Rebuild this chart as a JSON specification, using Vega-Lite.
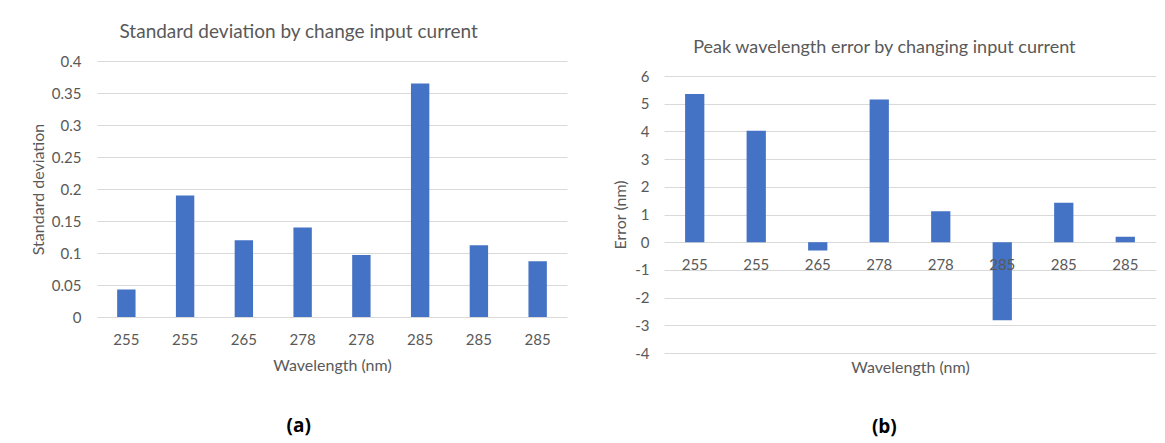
{
  "$schema": "https://vega.github.io/schema/vega-lite/v6.json",
  "background": "white",
  "padding": {"left": 30, "top": 23, "right": 0, "bottom": 12},
  "config": {
    "font": "Lato",
    "view": {"stroke": null},
    "axis": {"labelColor": "#595959", "titleColor": "#595959", "labelFont": "Lato", "titleFont": "Lato", "labelFontSize": 15, "titleFontSize": 16, "titleFontWeight": "normal", "gridColor": "#D9D9D9", "domain": false, "ticks": false, "labelOverlap": false},
    "title": {"color": "#595959", "fontWeight": "normal", "font": "Lato", "fontSize": 19}
  },
  "datasets": {
    "a": [
      {"idx": 1, "wl": "255", "sd": 0.043},
      {"idx": 2, "wl": "255", "sd": 0.19},
      {"idx": 3, "wl": "265", "sd": 0.12},
      {"idx": 4, "wl": "278", "sd": 0.14},
      {"idx": 5, "wl": "278", "sd": 0.097},
      {"idx": 6, "wl": "285", "sd": 0.365},
      {"idx": 7, "wl": "285", "sd": 0.112},
      {"idx": 8, "wl": "285", "sd": 0.087}
    ],
    "b": [
      {"idx": 1, "wl": "255", "err": 5.35},
      {"idx": 2, "wl": "255", "err": 4.02},
      {"idx": 3, "wl": "265", "err": -0.3},
      {"idx": 4, "wl": "278", "err": 5.15},
      {"idx": 5, "wl": "278", "err": 1.12},
      {"idx": 6, "wl": "285", "err": -2.82},
      {"idx": 7, "wl": "285", "err": 1.42},
      {"idx": 8, "wl": "285", "err": 0.2}
    ]
  },
  "spacing": 45,
  "hconcat": [
    {
      "title": {"text": "(a)", "orient": "bottom", "anchor": "middle", "fontWeight": "bold", "color": "black", "fontSize": 19, "font": "Open Sans", "offset": 44},
      "vconcat": [
        {
          "width": 470,
          "height": 256,
          "title": {"text": "Standard deviation by change input current", "offset": 12, "frame": "bounds", "anchor": "middle"},
          "data": {"name": "a"},
          "encoding": {
            "x": {"field": "idx", "type": "ordinal", "sort": null, "scale": {"paddingInner": 0.687, "paddingOuter": 0.343}, "axis": {"labels": false, "title": "Wavelength (nm)", "titlePadding": 40}}
          },
          "layer": [
            {
              "mark": {"type": "bar", "color": "#4472C4"},
              "encoding": {
                "y": {"field": "sd", "type": "quantitative", "scale": {"domain": [0, 0.4]}, "axis": {"values": [0, 0.05, 0.1, 0.15, 0.2, 0.25, 0.3, 0.35, 0.4], "format": ".2~f", "title": "Standard deviation", "labelPadding": 16, "titlePadding": 5}}
              }
            },
            {
              "mark": {"type": "text", "color": "#595959", "fontSize": 15, "font": "Lato", "dy": 23},
              "encoding": {
                "y": {"datum": 0, "type": "quantitative", "axis": {"values": [0, 0.05, 0.1, 0.15, 0.2, 0.25, 0.3, 0.35, 0.4], "format": ".2~f", "title": "Standard deviation", "labelPadding": 16, "titlePadding": 5}},
                "text": {"field": "wl"}
              }
            }
          ]
        }
      ]
    },
    {
      "title": {"text": "(b)", "orient": "bottom", "anchor": "middle", "fontWeight": "bold", "color": "black", "fontSize": 19, "font": "Open Sans", "offset": 43},
      "vconcat": [
        {
          "width": 492,
          "height": 292,
          "title": {"text": "Peak wavelength error by changing input current", "offset": 4, "fontSize": 18, "frame": "bounds", "anchor": "middle"},
          "data": {"name": "b"},
          "encoding": {
            "x": {"field": "idx", "type": "ordinal", "sort": null, "scale": {"paddingInner": 0.687, "paddingOuter": 0.343}, "axis": {"labels": false, "title": "Wavelength (nm)", "titlePadding": 6}}
          },
          "layer": [
            {
              "mark": {"type": "bar", "color": "#4472C4"},
              "encoding": {
                "y": {"field": "err", "type": "quantitative", "scale": {"domain": [-4, 6], "range": [292, 15]}, "axis": {"values": [-4, -3, -2, -1, 0, 1, 2, 3, 4, 5, 6], "labelExpr": "replace(datum.label, '\u2212', '-')", "title": "Error (nm)", "labelPadding": 15, "titlePadding": 6}}
              }
            },
            {
              "mark": {"type": "text", "color": "#595959", "fontSize": 15, "font": "Lato", "dy": 23},
              "encoding": {
                "y": {"datum": 0, "type": "quantitative", "axis": {"values": [-4, -3, -2, -1, 0, 1, 2, 3, 4, 5, 6], "labelExpr": "replace(datum.label, '\u2212', '-')", "title": "Error (nm)", "labelPadding": 15, "titlePadding": 6}},
                "text": {"field": "wl"}
              }
            }
          ]
        }
      ]
    }
  ]
}
